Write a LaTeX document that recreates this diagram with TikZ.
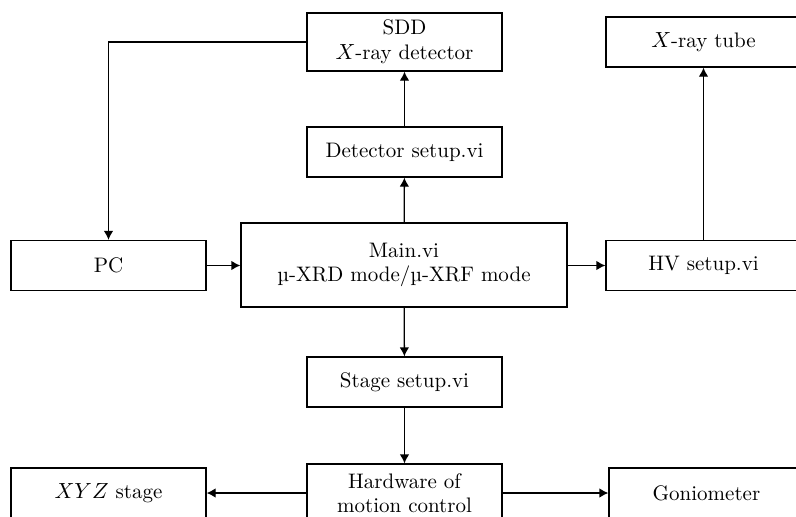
\documentclass[tikz,border=0pt]{standalone}
\usepackage{fontspec}
\usetikzlibrary{arrows.meta}
\begin{document}
\begin{tikzpicture}[x=0.5pt,y=-0.5pt,
  box/.style={draw, line width=0.65pt, inner sep=0pt, align=center,
    minimum width=97.5pt, minimum height=25pt,
    font=\fontsize{10.5}{12.3}\selectfont},
  arr/.style={line width=0.65pt, -{Latex[length=4.5pt,width=4.8pt]}}]
\useasboundingbox (0,0) rectangle (796,516);
\clip (0,0) rectangle (796,516);
\node[box, minimum height=29pt] (sdd) at (404.5,42) {SDD\\$X$-ray detector};
\node[box] (det) at (404.5,152) {Detector setup.vi};
\node[box, minimum width=163pt, minimum height=42pt] (main) at (404,265) {Main.vi\\µ-XRD mode/µ-XRF mode};
\node[box] (pc) at (108.5,265.5) {PC};
\node[box] (hv) at (703.5,265.5) {HV setup.vi};
\node[box] (tube) at (703.5,42) {$X$-ray tube};
\node[box] (stage) at (404.5,382) {Stage setup.vi};
\node[box, minimum height=29pt] (hw) at (404.5,493) {Hardware of\\motion control};
\node[box] (xyz) at (108.5,493) {$XYZ$ stage};
\node[box] (gon) at (706.5,493) {Goniometer};
\draw[arr] (sdd.west) -| (pc.north);
\draw[arr] (det) -- (sdd);
\draw[arr] (main) -- (det);
\draw[arr] (pc.east) -- (pc.east -| main.west);
\draw[arr] (main.east |- hv.west) -- (hv.west);
\draw[arr] (hv) -- (tube);
\draw[arr] (main) -- (stage);
\draw[arr] (stage) -- (hw);
\draw[arr] (hw.west) -- (xyz.east);
\draw[arr] (hw.east) -- (gon.west);
\end{tikzpicture}
\end{document}
